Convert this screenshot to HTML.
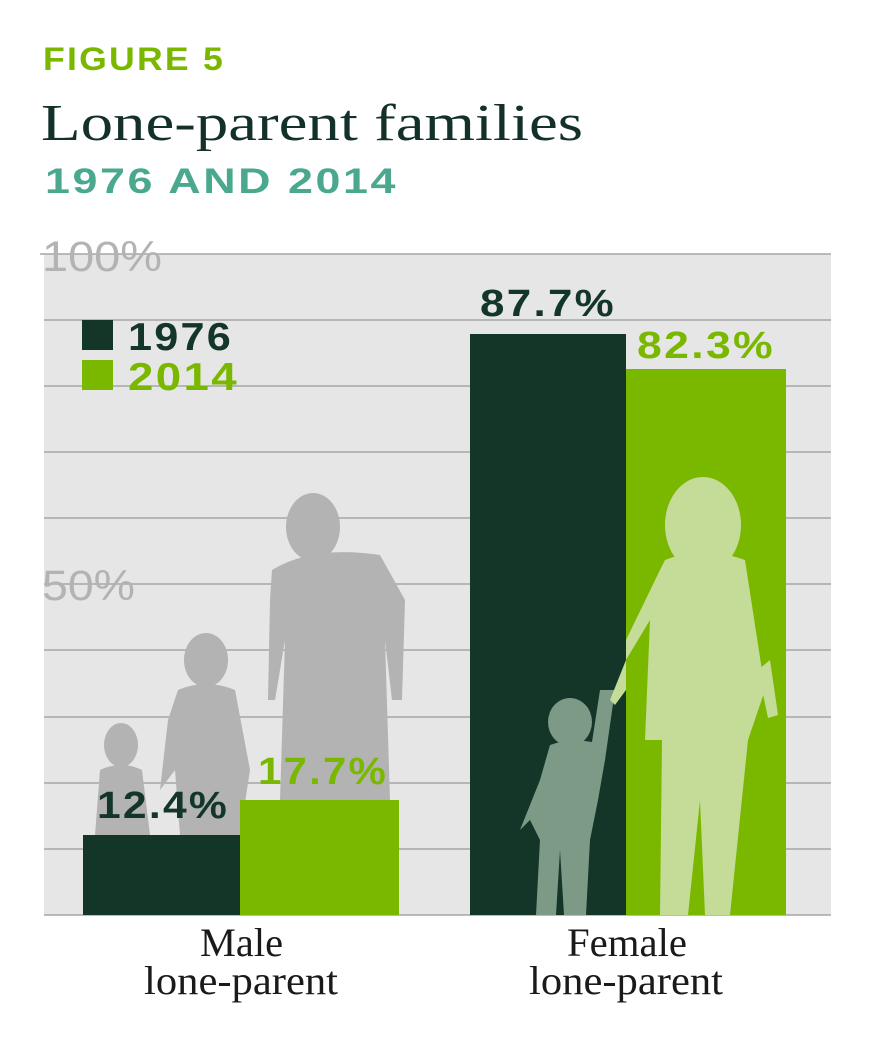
<!DOCTYPE html>
<html><head><meta charset="utf-8"><style>
body{margin:0;width:873px;height:1052px;background:#fff;overflow:hidden}
svg{display:block}
</style></head><body>
<svg width="873" height="1052" xmlns="http://www.w3.org/2000/svg" font-family="Liberation Sans, sans-serif">
<text x="43" y="70" font-size="32" font-weight="bold" fill="#7ab800" letter-spacing="2" textLength="182" lengthAdjust="spacingAndGlyphs">FIGURE 5</text>
<text x="41" y="140" font-size="52" fill="#13302b" font-family="Liberation Serif, serif" textLength="542" lengthAdjust="spacingAndGlyphs">Lone-parent families</text>
<text x="45" y="193" font-size="35" font-weight="bold" fill="#4aa88f" letter-spacing="2" textLength="353" lengthAdjust="spacingAndGlyphs">1976 AND 2014</text>
<rect x="44" y="254" width="787" height="661" fill="#e6e6e6"/>
<g stroke="#a6a6a6" stroke-width="1.5">
<line x1="40" x2="831" y1="254" y2="254"/><line x1="44" x2="831" y1="320" y2="320"/><line x1="44" x2="831" y1="386" y2="386"/><line x1="44" x2="831" y1="452" y2="452"/><line x1="44" x2="831" y1="518" y2="518"/><line x1="44" x2="831" y1="584" y2="584"/><line x1="44" x2="831" y1="650" y2="650"/><line x1="44" x2="831" y1="717" y2="717"/><line x1="44" x2="831" y1="783" y2="783"/><line x1="44" x2="831" y1="849" y2="849"/><line x1="44" x2="831" y1="915" y2="915"/>
</g>
<text x="42" y="271" font-size="43" fill="#b3b3b3" textLength="120" lengthAdjust="spacingAndGlyphs">100%</text>
<text x="42" y="600" font-size="43" fill="#b3b3b3" textLength="93" lengthAdjust="spacingAndGlyphs">50%</text>
<g fill="#b3b3b3">
<ellipse cx="121" cy="745" rx="17" ry="22"/><path d="M100 770 Q121 760 142 770 L150 835 L95 835 Z"/>
<ellipse cx="206" cy="660" rx="22" ry="27"/><path d="M178 690 Q206 678 235 690 L250 770 L240 835 L180 835 L175 770 L160 790 L168 720Z"/>
<ellipse cx="313" cy="527" rx="27" ry="34"/><path d="M272 570 Q313 545 380 555 L405 600 L402 700 L392 700 L385 640 L390 800 L280 800 L285 640 L275 700 L268 700 L270 600Z"/>
</g>
<rect x="83" y="835" width="157" height="80" fill="#133629"/>
<rect x="240" y="800" width="159" height="115" fill="#7ab800"/>
<rect x="470" y="334" width="156" height="581" fill="#133629"/>
<rect x="626" y="369" width="160" height="546" fill="#7ab800"/>
<g fill="#c4dc98">
<ellipse cx="703" cy="525" rx="38" ry="48"/>
<path d="M665 560 Q703 545 745 560 L765 690 L748 740 L730 915 L705 915 L700 800 L688 915 L660 915 L662 740 L645 740 L650 620 L626 660 L626 640 L660 570Z"/>
<path d="M770 660 L778 715 L768 718 L758 670Z"/>
</g>
<g fill="#7d9a86">
<ellipse cx="570" cy="722" rx="22" ry="24"/>
<path d="M550 745 Q570 738 592 742 L600 690 L615 690 L605 760 L598 800 L590 840 L586 915 L564 915 L560 850 L556 915 L536 915 L540 840 L530 820 L520 830 L540 780Z"/>
</g>
<path d="M610 700 L626 660 L626 690 L615 705Z" fill="#c4dc98"/>
<rect x="82" y="320" width="31" height="30" fill="#133629"/>
<rect x="82" y="360" width="31" height="30" fill="#7ab800"/>
<text x="128" y="350" font-size="39" font-weight="bold" fill="#133629" letter-spacing="2" textLength="105" lengthAdjust="spacingAndGlyphs">1976</text>
<text x="128" y="390" font-size="39" font-weight="bold" fill="#7ab800" letter-spacing="2" textLength="111" lengthAdjust="spacingAndGlyphs">2014</text>
<g font-size="38" font-weight="bold" letter-spacing="2">
<text x="97" y="818" fill="#133629" textLength="132" lengthAdjust="spacingAndGlyphs">12.4%</text>
<text x="258" y="784" fill="#7ab800" textLength="130" lengthAdjust="spacingAndGlyphs">17.7%</text>
<text x="480" y="316" fill="#133629" textLength="136" lengthAdjust="spacingAndGlyphs">87.7%</text>
<text x="637" y="358" fill="#7ab800" textLength="138" lengthAdjust="spacingAndGlyphs">82.3%</text>
</g>
<g font-size="40" fill="#1a1a1a" font-family="Liberation Serif, serif">
<text x="200" y="956" textLength="83" lengthAdjust="spacingAndGlyphs">Male</text><text x="144" y="994" textLength="194" lengthAdjust="spacingAndGlyphs">lone-parent</text>
<text x="567" y="956" textLength="120" lengthAdjust="spacingAndGlyphs">Female</text><text x="529" y="994" textLength="194" lengthAdjust="spacingAndGlyphs">lone-parent</text>
</g>
</svg>
</body></html>
